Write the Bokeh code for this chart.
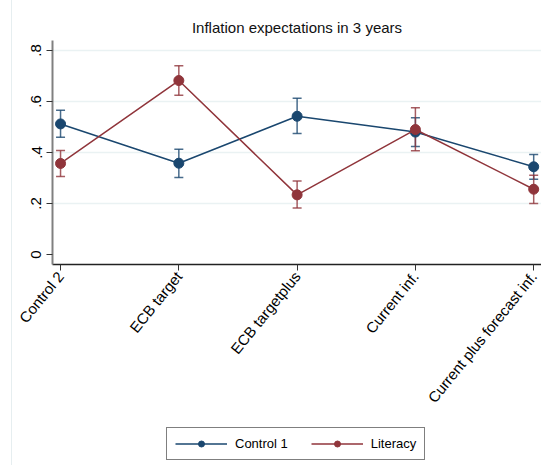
from math import radians
from bokeh.plotting import figure
from bokeh.layouts import column
from bokeh.models import (ColumnDataSource, Whisker, FixedTicker, Legend, LegendItem,
                          Range1d, TeeHead)
from bokeh.embed import file_html
from bokeh.resources import INLINE

categories = ["Control 2", "ECB target", "ECB targetplus", "Current inf.",
              "Current plus forecast inf."]
x_pos = [1, 2, 3, 4, 5]

control1 = [0.512, 0.358, 0.542, 0.480, 0.344]
control1_lo = [0.460, 0.302, 0.474, 0.424, 0.295]
control1_hi = [0.566, 0.413, 0.613, 0.536, 0.392]

literacy = [0.357, 0.682, 0.234, 0.490, 0.256]
literacy_lo = [0.306, 0.624, 0.182, 0.407, 0.200]
literacy_hi = [0.408, 0.740, 0.288, 0.575, 0.311]

y_ticks = [0, 0.2, 0.4, 0.6, 0.8]
y_tick_labels = ["0", ".2", ".4", ".6", ".8"]

BLUE = "#1a476f"
RED = "#90353b"
FONT = "Liberation Sans"
EDGE = {"background": "linear-gradient(to right, white 11px, #e6eef0 11px, "
                      "#e6eef0 12px, white 12px)"}

src_c = ColumnDataSource(dict(x=x_pos, y=control1, lo=control1_lo, hi=control1_hi))
src_l = ColumnDataSource(dict(x=x_pos, y=literacy, lo=literacy_lo, hi=literacy_hi))

p = figure(width=541, height=420, output_backend="svg", toolbar_location=None,
           x_range=Range1d(0.932, 5.066), y_range=Range1d(-0.039, 0.839),
           min_border_left=52, min_border_right=0, min_border_top=40,
           min_border_bottom=156, title="Inflation expectations in 3 years")

p.outline_line_color = None
p.background_fill_color = "white"
p.border_fill_alpha = 0
p.styles = EDGE

p.title.align = "center"
p.title.text_font = FONT
p.title.text_font_size = "15px"
p.title.text_font_style = "normal"
p.title.text_color = "#111111"

# grids
p.xgrid.visible = False
p.ygrid.ticker = FixedTicker(ticks=[0.2, 0.4, 0.6, 0.8])
p.ygrid.grid_line_color = "#eaf2f3"
p.ygrid.grid_line_width = 1.5

# y axis
p.yaxis.ticker = FixedTicker(ticks=y_ticks)
p.yaxis.major_label_overrides = {t: l for t, l in zip(y_ticks, y_tick_labels)}
p.yaxis.major_label_orientation = "vertical"
p.yaxis.axis_line_color = "#808080"
p.yaxis.axis_line_width = 2
p.yaxis.major_tick_line_color = "#333333"
p.yaxis.major_tick_out = 6
p.yaxis.major_tick_in = 0
p.yaxis.minor_tick_line_color = None
p.yaxis.major_label_text_font = FONT
p.yaxis.major_label_text_font_size = "15px"
p.yaxis.major_label_text_color = "black"
p.yaxis.major_label_standoff = 5

# x axis
p.xaxis.ticker = FixedTicker(ticks=x_pos)
p.xaxis.major_label_overrides = {x: c for x, c in zip(x_pos, categories)}
p.xaxis.major_label_orientation = radians(51)
p.xaxis.axis_line_color = "#222222"
p.xaxis.axis_line_width = 1.5
p.xaxis.major_tick_line_color = "#333333"
p.xaxis.major_tick_out = 6
p.xaxis.major_tick_in = 0
p.xaxis.minor_tick_line_color = None
p.xaxis.major_label_text_font = FONT
p.xaxis.major_label_text_font_size = "15px"
p.xaxis.major_label_text_color = "black"
p.xaxis.major_label_standoff = 3

series = [("Control 1", src_c, BLUE), ("Literacy", src_l, RED)]
for name, src, col in series:
    p.line("x", "y", source=src, line_color=col, line_width=1.5)
    w = Whisker(base="x", upper="hi", lower="lo", source=src, line_color=col,
                line_width=1.5, line_alpha=0.8,
                upper_head=TeeHead(size=9, line_color=col, line_width=1.5, line_alpha=0.8),
                lower_head=TeeHead(size=9, line_color=col, line_width=1.5, line_alpha=0.8))
    p.add_layout(w)
    p.scatter("x", "y", source=src, size=10, marker="circle",
              fill_color=col, line_color=col)

# legend strip below the plot (same series, drawn outside its view)
lg = figure(width=541, height=45, output_backend="svg", toolbar_location=None,
            x_range=Range1d(-10, -9), y_range=Range1d(-10, -9),
            x_axis_type=None, y_axis_type=None,
            min_border_left=0, min_border_right=0, min_border_top=0,
            min_border_bottom=0)
lg.outline_line_color = None
lg.background_fill_alpha = 0
lg.border_fill_alpha = 0
lg.grid.visible = False
lg.styles = EDGE

items = []
for name, src, col in series:
    ln = lg.line("x", "y", source=src, line_color=col, line_width=1.5)
    sc = lg.scatter("x", "y", source=src, size=9, marker="circle",
                    fill_color=col, line_color=col)
    items.append(LegendItem(label=name, renderers=[ln, sc]))

legend = Legend(items=items, orientation="horizontal", location=(114, 5),
                glyph_width=52, glyph_height=15, label_height=15,
                label_standoff=8, spacing=23, padding=8, margin=0,
                label_text_font=FONT, label_text_font_size="13px",
                label_text_color="black",
                border_line_color="black", border_line_width=1,
                background_fill_color="white", background_fill_alpha=1)
lg.add_layout(legend)

layout = column(p, lg, spacing=0)
open("out.html", "w").write(file_html(layout, INLINE))
